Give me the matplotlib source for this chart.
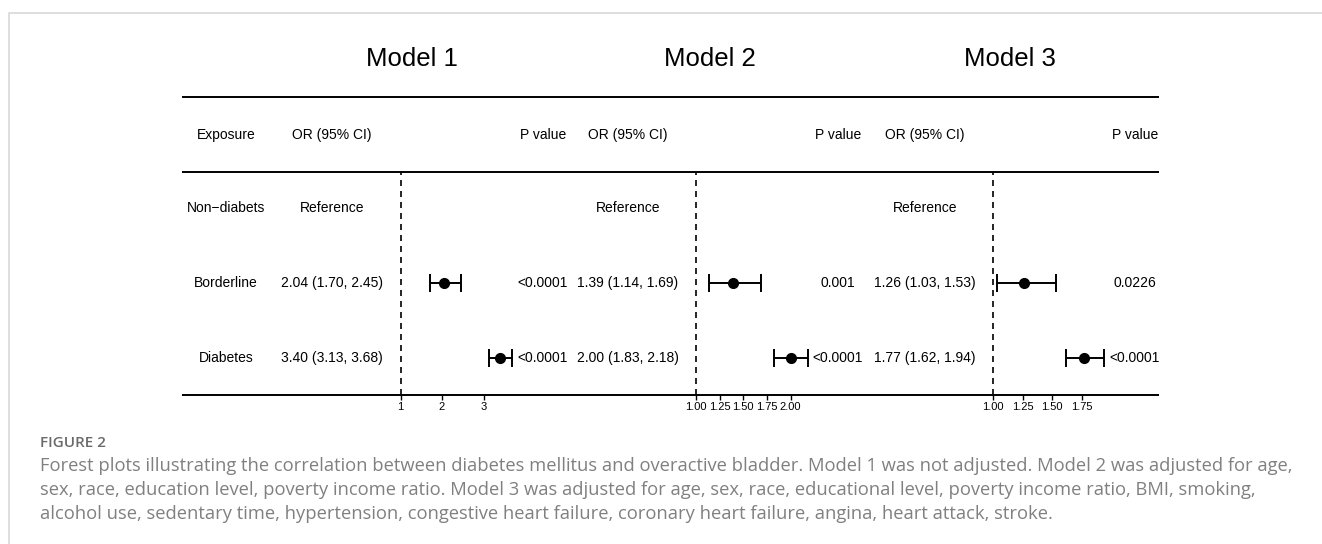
import numpy as np
import matplotlib
matplotlib.use("Agg")
import matplotlib.pyplot as plt

# Data
exposure = ["Non\u2212diabets", "Borderline", "Diabetes"]
models = ["Model 1", "Model 2", "Model 3"]

m1_or = [np.nan, 2.04, 3.40]
m1_lo = [np.nan, 1.70, 3.13]
m1_hi = [np.nan, 2.45, 3.68]
m1_p = ["", "<0.0001", "<0.0001"]

m2_or = [np.nan, 1.39, 2.00]
m2_lo = [np.nan, 1.14, 1.83]
m2_hi = [np.nan, 1.69, 2.18]
m2_p = ["", "0.001", "<0.0001"]

m3_or = [np.nan, 1.26, 1.77]
m3_lo = [np.nan, 1.03, 1.62]
m3_hi = [np.nan, 1.53, 1.94]
m3_p = ["", "0.0226", "<0.0001"]

m1_ticks = [1, 2, 3]
m2_ticks = [1.00, 1.25, 1.50, 1.75, 2.00]
m3_ticks = [1.00, 1.25, 1.50, 1.75]

caption_title = "FIGURE 2"
caption_lines = [
    "Forest plots illustrating the correlation between diabetes mellitus and overactive bladder. Model 1 was not adjusted. Model 2 was adjusted for age,",
    "sex, race, education level, poverty income ratio. Model 3 was adjusted for age, sex, race, educational level, poverty income ratio, BMI, smoking,",
    "alcohol use, sedentary time, hypertension, congestive heart failure, coronary heart failure, angina, heart attack, stroke.",
]

W, H = 1322, 544
TABLE_FONT = "Liberation Sans"
plt.rcParams["font.family"] = [TABLE_FONT, "DejaVu Sans"]

fig = plt.figure(figsize=(W / 100, H / 100), dpi=100)

# pixel-coordinate canvas for table text and rules
ax = fig.add_axes([0, 0, 1, 1])
ax.set_xlim(0, W)
ax.set_ylim(H, 0)
ax.axis("off")

# light frame of the page
ax.plot([9, 9, W], [H, 13, 13], color="#d8d8d8", lw=1.2, solid_capstyle="butt")

x0, x1 = 182, 1159
y_top, y_head, y_bot = 97, 172, 395
row_y = [208, 283, 358]
head_y = 135
for y in (y_top, y_head, y_bot):
    ax.plot([x0, x1], [y, y], color="black", lw=1.4, solid_capstyle="butt")

fs = 10
ax.text(226, head_y, "Exposure", ha="center", va="center", fontsize=fs)
for i, e in enumerate(exposure):
    ax.text(226, row_y[i], e, ha="center", va="center", fontsize=fs)

panels = [
    (m1_or, m1_lo, m1_hi, m1_p, m1_ticks, "%d"),
    (m2_or, m2_lo, m2_hi, m2_p, m2_ticks, "%.2f"),
    (m3_or, m3_lo, m3_hi, m3_p, m3_ticks, "%.2f"),
]
title_x = [412, 710, 1010]
or_x = [332, 628, 925]
p_x = [543, 838, 1135]
ref_px = [400.5, 696, 993]      # pixel position of OR = 1
px_per_unit = [41.5, 94.5, 118]
panel_px = [(390, 515), (686, 810), (983, 1107)]

for k, (orv, lo, hi, pv, ticks, fmt) in enumerate(panels):
    ax.text(title_x[k], 59, models[k], ha="center", va="center", fontsize=18.5)
    ax.text(or_x[k], head_y, "OR (95% CI)", ha="center", va="center", fontsize=fs)
    ax.text(p_x[k], head_y, "P value", ha="center", va="center", fontsize=fs)
    for i in range(len(exposure)):
        if np.isnan(orv[i]):
            lab = "Reference"
        else:
            lab = f"{orv[i]:.2f} ({lo[i]:.2f}, {hi[i]:.2f})"
        ax.text(or_x[k], row_y[i], lab, ha="center", va="center", fontsize=fs)
        ax.text(p_x[k], row_y[i], pv[i], ha="center", va="center", fontsize=fs)

    # CI panel
    L, R = panel_px[k]
    cax = fig.add_axes([L / W, 1 - y_bot / H, (R - L) / W, (y_bot - y_head) / H])
    cax.patch.set_alpha(0)
    s = px_per_unit[k]
    cax.set_xlim(1 + (L - ref_px[k]) / s, 1 + (R - ref_px[k]) / s)
    # rows 0..2 sit 75 px apart
    cax.set_ylim((y_bot - row_y[0]) / 75, (y_head - row_y[0]) / 75)
    for sp in cax.spines.values():
        sp.set_visible(False)
    cax.axvline(1, color="black", lw=1.2, ls=(0, (3.6, 3.0)))
    yy = np.arange(len(exposure))
    o = np.array(orv)
    cax.errorbar(o, yy, xerr=[o - np.array(lo), np.array(hi) - o], fmt="o",
                 color="black", ms=7, elinewidth=1.4, capsize=6.3, capthick=1.4)
    cax.set_yticks([])
    cax.set_xticks(ticks)
    cax.set_xticklabels([fmt % t for t in ticks])
    cax.tick_params(axis="x", direction="out", length=3.5, width=1.0,
                    pad=1.5, labelsize=8)

# caption
cap_font = ["Open Sans", "DejaVu Sans"]
ax.text(40, 443, caption_title, ha="left", va="center", fontsize=11,
        color="#6a6a6a", family=cap_font, fontweight="semibold")
for i, line in enumerate(caption_lines):
    ax.text(40, 466 + 24 * i, line, ha="left", va="center", fontsize=13.2,
            color="#808080", family=cap_font)

fig.savefig("out.png", dpi=100)
